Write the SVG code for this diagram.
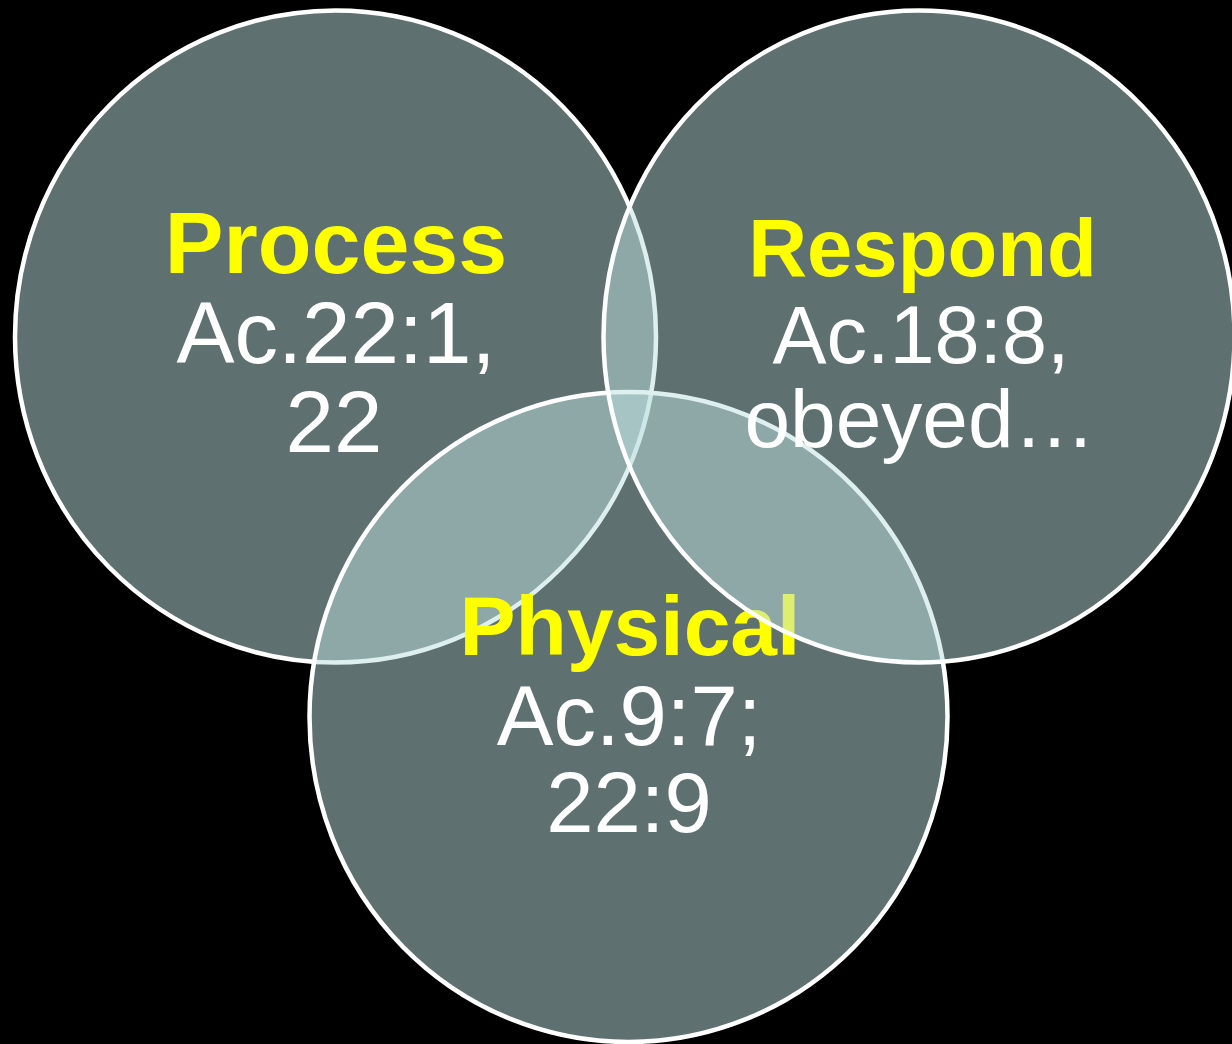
<svg xmlns="http://www.w3.org/2000/svg" width="1232" height="1044" viewBox="0 0 1232 1044">
  <style>
    .c { fill: #bee0e0; fill-opacity: 0.5; stroke: #ffffff; stroke-width: 4.5; }
    .h { font-family: "Liberation Sans", Arial, sans-serif; font-weight: bold; fill: #ffff00; text-anchor: middle; }
    .t { font-family: "Liberation Sans", Arial, sans-serif; fill: #ffffff; text-anchor: middle; }
  </style>
  <rect x="0" y="0" width="1232" height="1044" fill="#000000"/>
  <g id="process">
    <ellipse class="c" cx="335.5" cy="336.5" rx="320.5" ry="326"/>
    <text class="h" x="336" y="273" font-size="88">Process</text>
    <text class="t" x="336" y="363" font-size="87">Ac.22:1,</text>
    <text class="t" x="334" y="452" font-size="87">22</text>
  </g>
  <g id="physical">
    <ellipse class="c" cx="628.5" cy="717" rx="319" ry="325"/>
    <text class="h" x="630" y="655" font-size="84">Physical</text>
    <text class="t" x="629" y="745" font-size="85">Ac.9:7;</text>
    <text class="t" x="629" y="832" font-size="85">22:9</text>
  </g>
  <g id="respond">
    <ellipse class="c" cx="919" cy="336.5" rx="315.5" ry="326"/>
    <text class="h" x="922.5" y="276" font-size="81.5">Respond</text>
    <text class="t" x="921" y="363" font-size="81">Ac.18:8,</text>
    <text class="t" x="920" y="447" font-size="82">obeyed…</text>
  </g>
  <g id="connectors"></g>
</svg>
